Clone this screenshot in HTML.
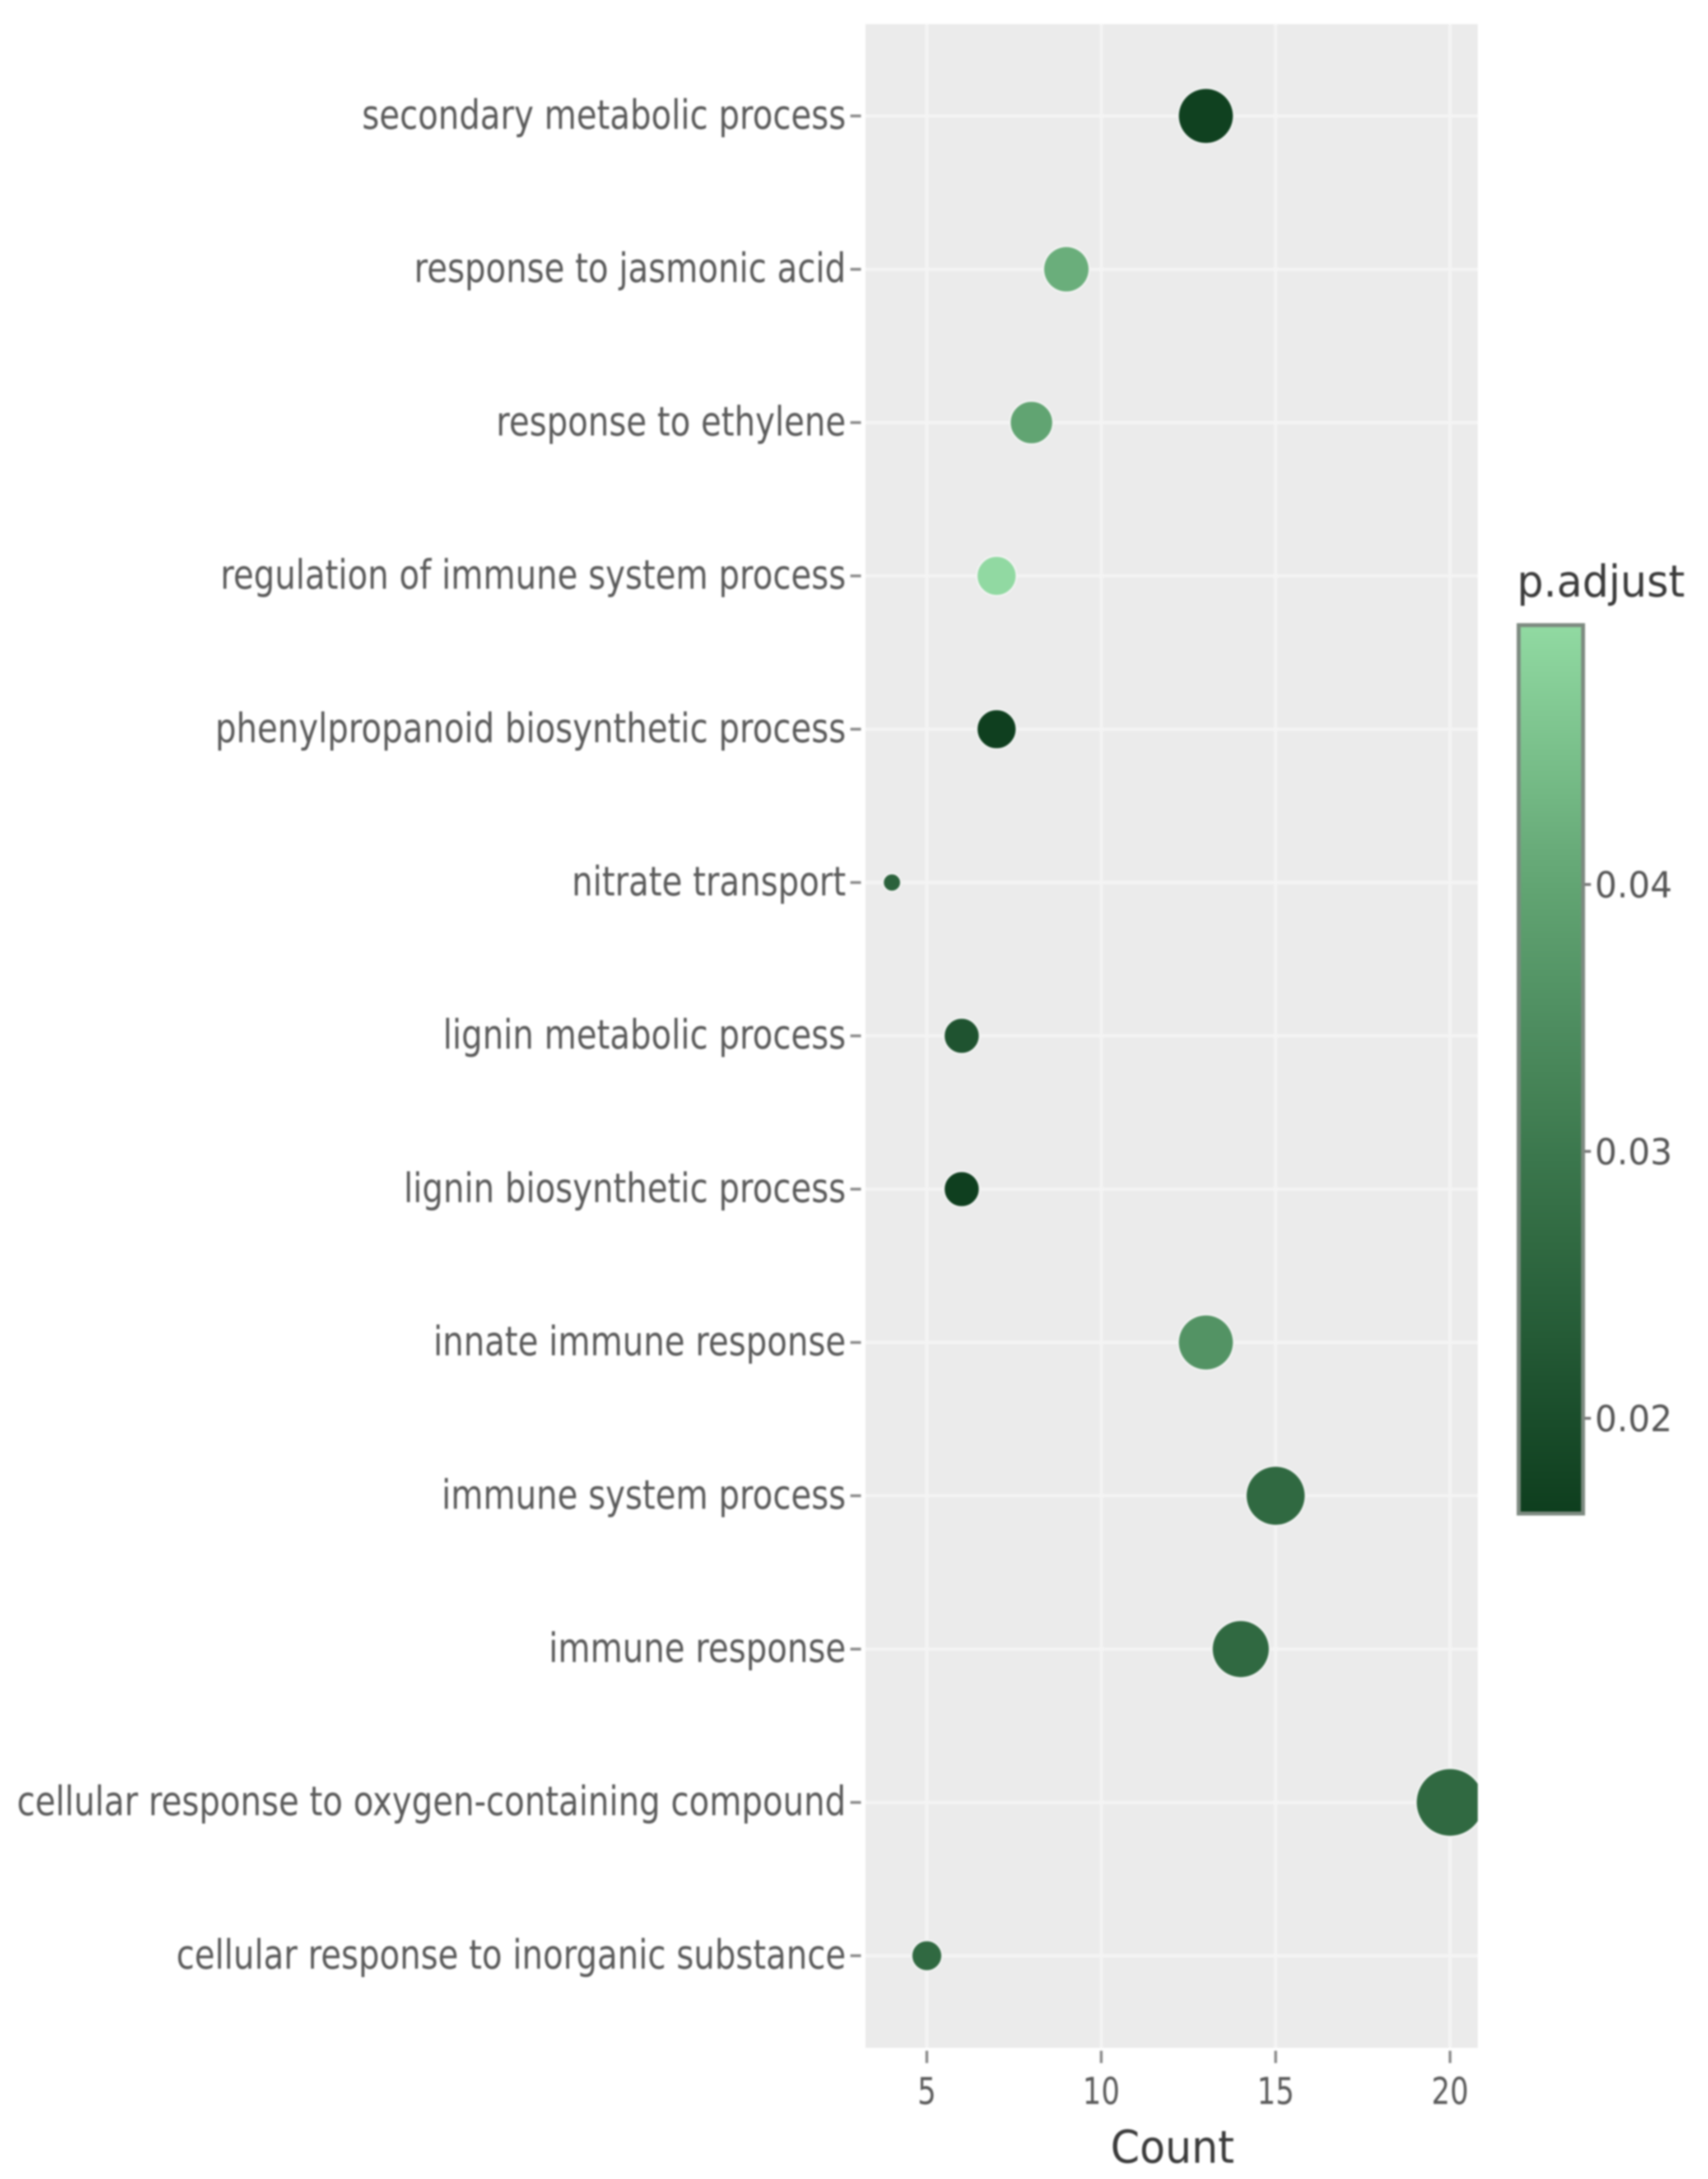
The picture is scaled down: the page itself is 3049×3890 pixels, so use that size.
<!DOCTYPE html>
<html lang="en">
<head>
<meta charset="utf-8">
<title>GO enrichment dot plot</title>
<style>
html,body{margin:0;padding:0;background:#fff;width:3049px;height:3890px;overflow:hidden}
svg{display:block;filter:blur(1.7px)}
text{font-family:"DejaVu Sans","Liberation Sans",sans-serif}
</style>
</head>
<body>
<svg id="chart" xmlns="http://www.w3.org/2000/svg" width="3049" height="3890" viewBox="0 0 3049 3890">
  <defs>
    <clipPath id="plot-clip"><rect x="1545" y="43" width="1093" height="3613"/></clipPath>
    <linearGradient id="colorbar-gradient" x1="0" y1="0" x2="0" y2="1"></linearGradient>
  </defs>
  <rect x="0" y="0" width="3049" height="3890" fill="#ffffff"/>
  <rect x="1545" y="43" width="1093" height="3613" fill="#ebebeb"/>
  <g id="grid"></g>
  <g id="ticks"></g>
  <g id="dots" clip-path="url(#plot-clip)"></g>
  <g id="y-labels"></g>
  <g id="x-labels"></g>
  <text transform="translate(2093,3861) scale(0.93,1)" text-anchor="middle" font-size="80" fill="#3a3a3a">Count</text>
  <text transform="translate(2708,1065) scale(0.955,1)" font-size="78" fill="#3a3a3a">p.adjust</text>
  <rect x="2711" y="1116" width="115" height="1586" fill="url(#colorbar-gradient)" stroke="#7d8a80" stroke-width="7"/>
  <g id="legend-ticks"></g>
</svg>
<script>
const categories = [
  "secondary metabolic process",
  "response to jasmonic acid",
  "response to ethylene",
  "regulation of immune system process",
  "phenylpropanoid biosynthetic process",
  "nitrate transport",
  "lignin metabolic process",
  "lignin biosynthetic process",
  "innate immune response",
  "immune system process",
  "immune response",
  "cellular response to oxygen-containing compound",
  "cellular response to inorganic substance"
];
const counts = [13, 9, 8, 7, 7, 4, 6, 6, 13, 15, 14, 20, 5];
const pAdjust = [0.0172, 0.0417, 0.0397, 0.0495, 0.0168, 0.0250, 0.0215, 0.0168, 0.0360, 0.0265, 0.0265, 0.0265, 0.0265];
const xTicks = [5, 10, 15, 20];
const legendTicks = [0.02, 0.03, 0.04];
const legendTickLabels = ["0.02", "0.03", "0.04"];
const colorDomain = [0.0166, 0.0496];
const countDomain = [4, 20];

const SVG_NS = "http://www.w3.org/2000/svg";
function xScale(c) { return 1654.5 + (c - 5) * 62.27; }
function yScale(i) { return 207 + i * 273.7; }
function legendY(p) { return 2532 - (p - 0.02) * 47650; }
function radius(c) {
  const t = (c - countDomain[0]) / (countDomain[1] - countDomain[0]);
  return 16 + 45 * Math.sqrt(Math.max(0, t));
}
function colorOf(p) {
  const stops = [
    [0, 14, 62, 30],
    [0.406, 60, 120, 78],
    [0.709, 98, 165, 115],
    [1, 145, 218, 162]
  ];
  let t = (p - colorDomain[0]) / (colorDomain[1] - colorDomain[0]);
  t = Math.max(0, Math.min(1, t));
  let s = 0;
  while (s < stops.length - 2 && t > stops[s + 1][0]) s++;
  const a = stops[s], b = stops[s + 1];
  const u = (t - a[0]) / (b[0] - a[0]);
  const ch = [1, 2, 3].map(function (k) { return Math.round(a[k] + (b[k] - a[k]) * u); });
  return "rgb(" + ch.join(",") + ")";
}
function make(tag, parent, attrs) {
  const el = document.createElementNS(SVG_NS, tag);
  for (const k in attrs) el.setAttribute(k, attrs[k]);
  parent.appendChild(el);
  return el;
}

const grid = document.getElementById("grid");
const ticks = document.getElementById("ticks");
const dots = document.getElementById("dots");
const yLabels = document.getElementById("y-labels");
const xLabels = document.getElementById("x-labels");
const legendTickGroup = document.getElementById("legend-ticks");

/* gradient */
const gradient = document.getElementById("colorbar-gradient");
for (let k = 0; k <= 20; k++) {
  const p = colorDomain[1] - (colorDomain[1] - colorDomain[0]) * k / 20;
  make("stop", gradient, { offset: (k * 5) + "%", "stop-color": colorOf(p) });
}

/* vertical grid and x ticks */
xTicks.forEach(function (v) {
  const line = make("line", grid, { x1: xScale(v), x2: xScale(v), y1: 43, y2: 3656, stroke: "#f4f4f4", "stroke-width": 6 });
  
  
  const tick = make("line", ticks, { x1: xScale(v), x2: xScale(v), y1: 3661, y2: 3683, stroke: "#8a8a8a", "stroke-width": 5 });
  
  
  const label = make("text", xLabels, { transform: "translate(" + xScale(v) + ",3756) scale(0.79,1)", "text-anchor": "middle", "font-size": 66, fill: "#5a5a5a" });
  label.textContent = String(v);
  
  
});

/* rows */
const rowLabels = [];
categories.forEach(function (name, i) {
  const line = make("line", grid, { x1: 1545, x2: 2638, y1: yScale(i), y2: yScale(i), stroke: "#f4f4f4", "stroke-width": 6 });
  
  
  const tick = make("line", ticks, { x1: 1518, x2: 1537, y1: yScale(i), y2: yScale(i), stroke: "#8a8a8a", "stroke-width": 5 });
  
  
  const label = make("text", yLabels, { "text-anchor": "end", "font-size": 72, fill: "#5a5a5a" });
  label.textContent = name;
  
  
  rowLabels.push(label);
  const dot = make("circle", dots, { cx: xScale(counts[i]), cy: yScale(i), r: radius(counts[i]), fill: colorOf(pAdjust[i]), stroke: "#f4f4f4", "stroke-width": 3 });
  
  
});

/* fit the horizontally condensed label style to the longest label */
let longest = 1;
rowLabels.forEach(function (t) { longest = Math.max(longest, t.getComputedTextLength()); });
const labelScaleX = 1480 / longest;
rowLabels.forEach(function (t, i) {
  t.setAttribute("transform", "translate(1510," + (yScale(i) + 23) + ") scale(" + labelScaleX + ",1)");
});

/* colorbar ticks */
legendTicks.forEach(function (p, i) {
  const tick = make("line", legendTickGroup, { x1: 2829, x2: 2840, y1: legendY(p), y2: legendY(p), stroke: "#777777", "stroke-width": 5 });
  
  
  const label = make("text", legendTickGroup, { transform: "translate(2847," + (legendY(p) + 23) + ") scale(0.97,1)", "font-size": 64, fill: "#555555" });
  label.textContent = legendTickLabels[i];
  
  
});
</script>
</body>
</html>
